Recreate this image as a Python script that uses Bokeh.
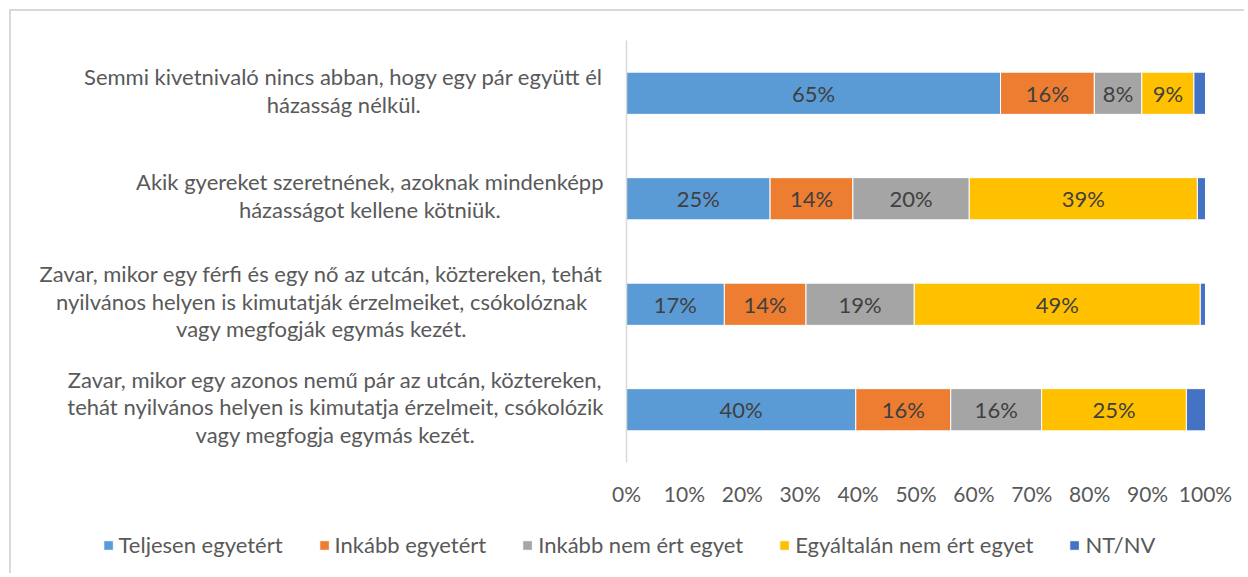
from bokeh.plotting import figure
from bokeh.models import Range1d, FixedTicker, PrintfTickFormatter, Label, Legend, LegendItem, ColumnDataSource
from bokeh.core.properties import value
from bokeh.embed import file_html
from bokeh.resources import INLINE

categories = [
    "Semmi kivetnivaló nincs abban, hogy egy pár együtt él\nházasság nélkül.",
    "Akik gyereket szeretnének, azoknak mindenképp\nházasságot kellene kötniük.",
    "Zavar, mikor egy férfi és egy nő az utcán, köztereken, tehát\nnyilvános helyen is kimutatják érzelmeiket, csókolóznak\nvagy megfogják egymás kezét.",
    "Zavar, mikor egy azonos nemű pár az utcán, köztereken,\ntehát nyilvános helyen is kimutatja érzelmeit, csókolózik\nvagy megfogja egymás kezét.",
]
series = ["Teljesen egyetért", "Inkább egyetért", "Inkább nem ért egyet", "Egyáltalán nem ért egyet", "NT/NV"]
teljesen = [64.6, 24.8, 16.9, 39.6]
inkabb = [16.2, 14.3, 14.1, 16.4]
inkabb_nem = [8.2, 20.1, 18.7, 15.7]
egyaltalan = [9.0, 39.4, 49.4, 25.0]
ntnv = [2.0, 1.4, 0.9, 3.3]
colors = ["#5B9BD5", "#ED7D31", "#A5A5A5", "#FFC000", "#4472C4"]
x_ticks = [0, 10, 20, 30, 40, 50, 60, 70, 80, 90, 100]

FONT = "Lato"
FS = "22px"
n = len(categories)

# layout (pixels inside the figure canvas)
W, H = 1235, 564
PLOT_L, PLOT_R, PLOT_T, PLOT_B = 615, 1194, 29, 451
xs = (PLOT_R - PLOT_L) / 100.0
ys = (PLOT_B - PLOT_T) / n
x_start = -PLOT_L / xs
x_end = 100 + (W - PLOT_R) / xs
y_end = n + PLOT_T / ys
y_start = -(H - PLOT_B) / ys

ypos = [n - i - 0.5 for i in range(n)]
keys = ["s0", "s1", "s2", "s3", "s4"]
vals = [teljesen, inkabb, inkabb_nem, egyaltalan, ntnv]
data = {"y": ypos}
for k, v in zip(keys, vals):
    data[k] = v
source = ColumnDataSource(data)

p = figure(width=W, height=H, output_backend="svg", toolbar_location=None,
           x_range=Range1d(x_start, x_end), y_range=Range1d(y_start, y_end),
           min_border=0, min_border_left=0, min_border_right=0, min_border_top=0, min_border_bottom=0)
p.styles = {"margin-left": "9px", "margin-top": "9px",
            "border-top": "2px solid #d9d9d9", "border-left": "2px solid #d9d9d9"}
p.outline_line_color = None
p.grid.visible = False

renderers = p.hbar_stack(keys, y="y", height=0.4, color=colors, source=source,
                         line_color="white", line_width=1)

# data labels
lx, ly, lt = [], [], []
for j in range(n):
    cum = 0.0
    for si in range(4):
        v = vals[si][j]
        lx.append(cum + v / 2)
        ly.append(ypos[j])
        lt.append(f"{round(v):d}%")
        cum += v
p.text(x=lx, y=ly, text=lt, text_align="center", text_baseline="middle",
       text_font=value(FONT), text_font_size=FS, text_color="#404040")

# x axis placed at bottom of the bar area
xa = p.xaxis[0]
xa.fixed_location = 0
xa.bounds = (0, 100)
xa.ticker = FixedTicker(ticks=x_ticks)
xa.formatter = PrintfTickFormatter(format="%d%%")
xa.axis_line_color = None
xa.major_tick_line_color = None
xa.minor_tick_line_color = None
xa.major_tick_out = 0
xa.major_tick_in = 0
xa.major_label_standoff = 18
xa.major_label_text_font = FONT
xa.major_label_text_font_size = "21px"
xa.major_label_text_color = "#595959"

ya = p.yaxis[0]
ya.fixed_location = 0
ya.bounds = (0, n)
ya.ticker = FixedTicker(ticks=[])
ya.axis_line_color = "#d9d9d9"
ya.axis_line_width = 1.5
ya.major_tick_line_color = None
ya.minor_tick_line_color = None
ya.major_label_text_font_size = "0px"

for cat, y in zip(categories, ypos):
    p.add_layout(Label(x=0, y=y, text=cat, x_offset=-23, y_offset=3, text_align="center",
                       anchor="center_right",
                       text_font=FONT, text_font_size=FS, text_color="#595959",
                       text_line_height=1.02))

legend = Legend(items=[LegendItem(label=s, renderers=[r]) for s, r in zip(series, renderers)],
                orientation="horizontal", location="bottom", padding=0, margin=17,
                glyph_width=12, glyph_height=12, label_standoff=5, spacing=35, label_height=20,
                label_text_font=FONT, label_text_font_size=FS, label_text_color="#595959",
                border_line_color=None, background_fill_alpha=0)
p.add_layout(legend, "center")

open("out.html", "w").write(file_html(p, INLINE))
